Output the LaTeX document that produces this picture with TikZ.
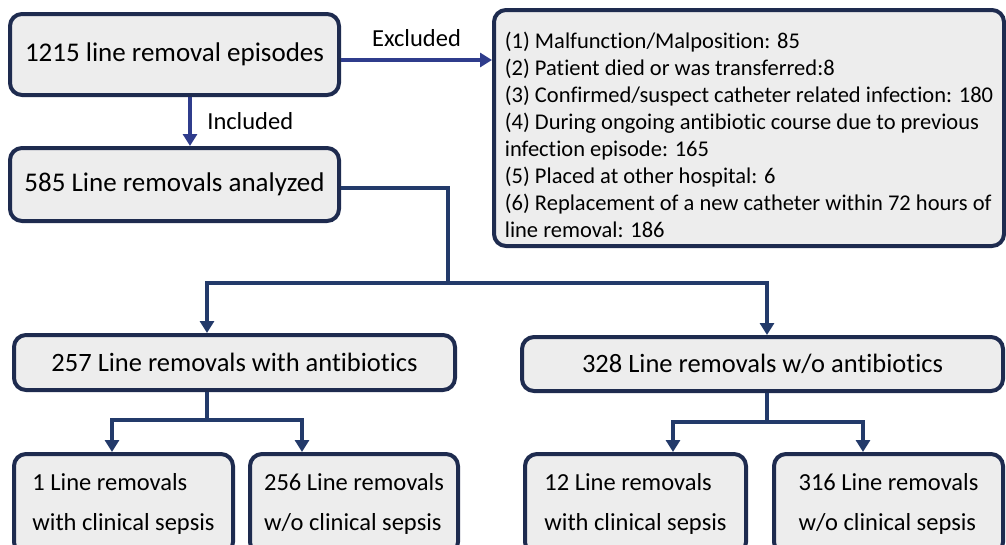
\documentclass[tikz,border=0pt]{standalone}
\usepackage{fontspec}
\setmainfont{Carlito}[Ligatures=NoCommon]
\usetikzlibrary{arrows.meta,positioning,calc}
\definecolor{edge}{HTML}{1E2B4F}
\definecolor{fillg}{HTML}{EDEDED}
\definecolor{topblue}{HTML}{2F3C8C}
\definecolor{navy}{HTML}{233A6A}
\tikzset{
  box/.style={draw=edge,line width=4pt,rounded corners=12pt,fill=fillg,inner sep=0pt,align=center,text=black},
  big/.style={font=\fontsize{27}{32}\selectfont},
  mid/.style={font=\fontsize{26.5}{32}\selectfont},
  small/.style={font=\fontsize{24.5}{40}\selectfont,align=left},
  lab/.style={font=\fontsize{24.5}{28}\selectfont,text=black},
  arb/.style={-{Triangle[length=12pt,width=14pt]},draw=topblue,line width=4pt},
  ar/.style={-{Triangle[length=12pt,width=14pt]},draw=navy,line width=4pt},
  ln/.style={draw=navy,line width=4pt},
}
\begin{document}
\begin{tikzpicture}[x=1pt,y=-1pt]
  \clip (0,0) rectangle (1006,544);
  % top row
  \node[box,big,minimum width=329pt,minimum height=81pt] (start) at (174.5,54.5) {1215 line removal episodes};
  \node[box,big,minimum width=329pt,minimum height=73pt] (anl) at (174.5,184.5) {585 Line removals analyzed};
  \node[box,minimum width=510pt,minimum height=236pt,align=left,font=\fontsize{22.5}{27}\selectfont] (excl) at (749,128) {\rule{0pt}{30pt}(1) Malfunction/Malposition: 85\\
(2) Patient died or was transferred:8\\
(3) Confirmed/suspect catheter related infection: 180\\
(4) During ongoing antibiotic course due to previous\\
infection episode: 165\\
(5) Placed at other hospital: 6\\
(6) Replacement of a new catheter within 72 hours of\\
line removal: 186};
  % second level
  \node[box,mid,minimum width=441pt,minimum height=55pt] (abx) at (234.5,362.5) {257 Line removals with antibiotics};
  \node[box,mid,minimum width=481pt,minimum height=54pt] (noabx) at (762.5,364) {328 Line removals w/o antibiotics};
  % bottom row
  \node[box,small,minimum width=219pt,minimum height=100pt] (abxs) at (123.5,504) {1 Line removals\\with clinical sepsis};
  \node[box,small,minimum width=208pt,minimum height=100pt] (abxn) at (354,504) {256 Line removals\\w/o clinical sepsis};
  \node[box,small,minimum width=221pt,minimum height=100pt] (nos) at (635.5,504) {12 Line removals\\with clinical sepsis};
  \node[box,small,minimum width=229pt,minimum height=100pt] (non) at (888.5,504) {316 Line removals\\w/o clinical sepsis};

  \draw[arb] ([xshift=15.5pt]start.south) -- node[lab,right=12pt] {Included} ([xshift=15.5pt]anl.north);
  \draw[arb] ([yshift=-5.5pt]start.east) -- node[lab,above=8pt] {Excluded} ([yshift=-5.5pt]start.east -| excl.west);

  \coordinate (split) at (448,283);
  \coordinate (dsplit) at (207,420);
  \coordinate (esplit) at (767,422);
  \draw[ln] ([yshift=-3.5pt]anl.east) -| (split);
  \draw[ar] (split) -| ([xshift=-27.5pt]abx.north);
  \draw[ar] (split) -| ([xshift=4.5pt]noabx.north);
  \draw[ln] (abx.south -| dsplit) -- (dsplit);
  \draw[ar] (dsplit) -| ([xshift=-11.5pt]abxs.north);
  \draw[ar] (dsplit) -| ([xshift=-52pt]abxn.north);
  \draw[ln] (noabx.south -| esplit) -- (esplit);
  \draw[ar] (esplit) -| ([xshift=37.5pt]nos.north);
  \draw[ar] (esplit) -| ([xshift=-25.5pt]non.north);
\end{tikzpicture}
\end{document}
